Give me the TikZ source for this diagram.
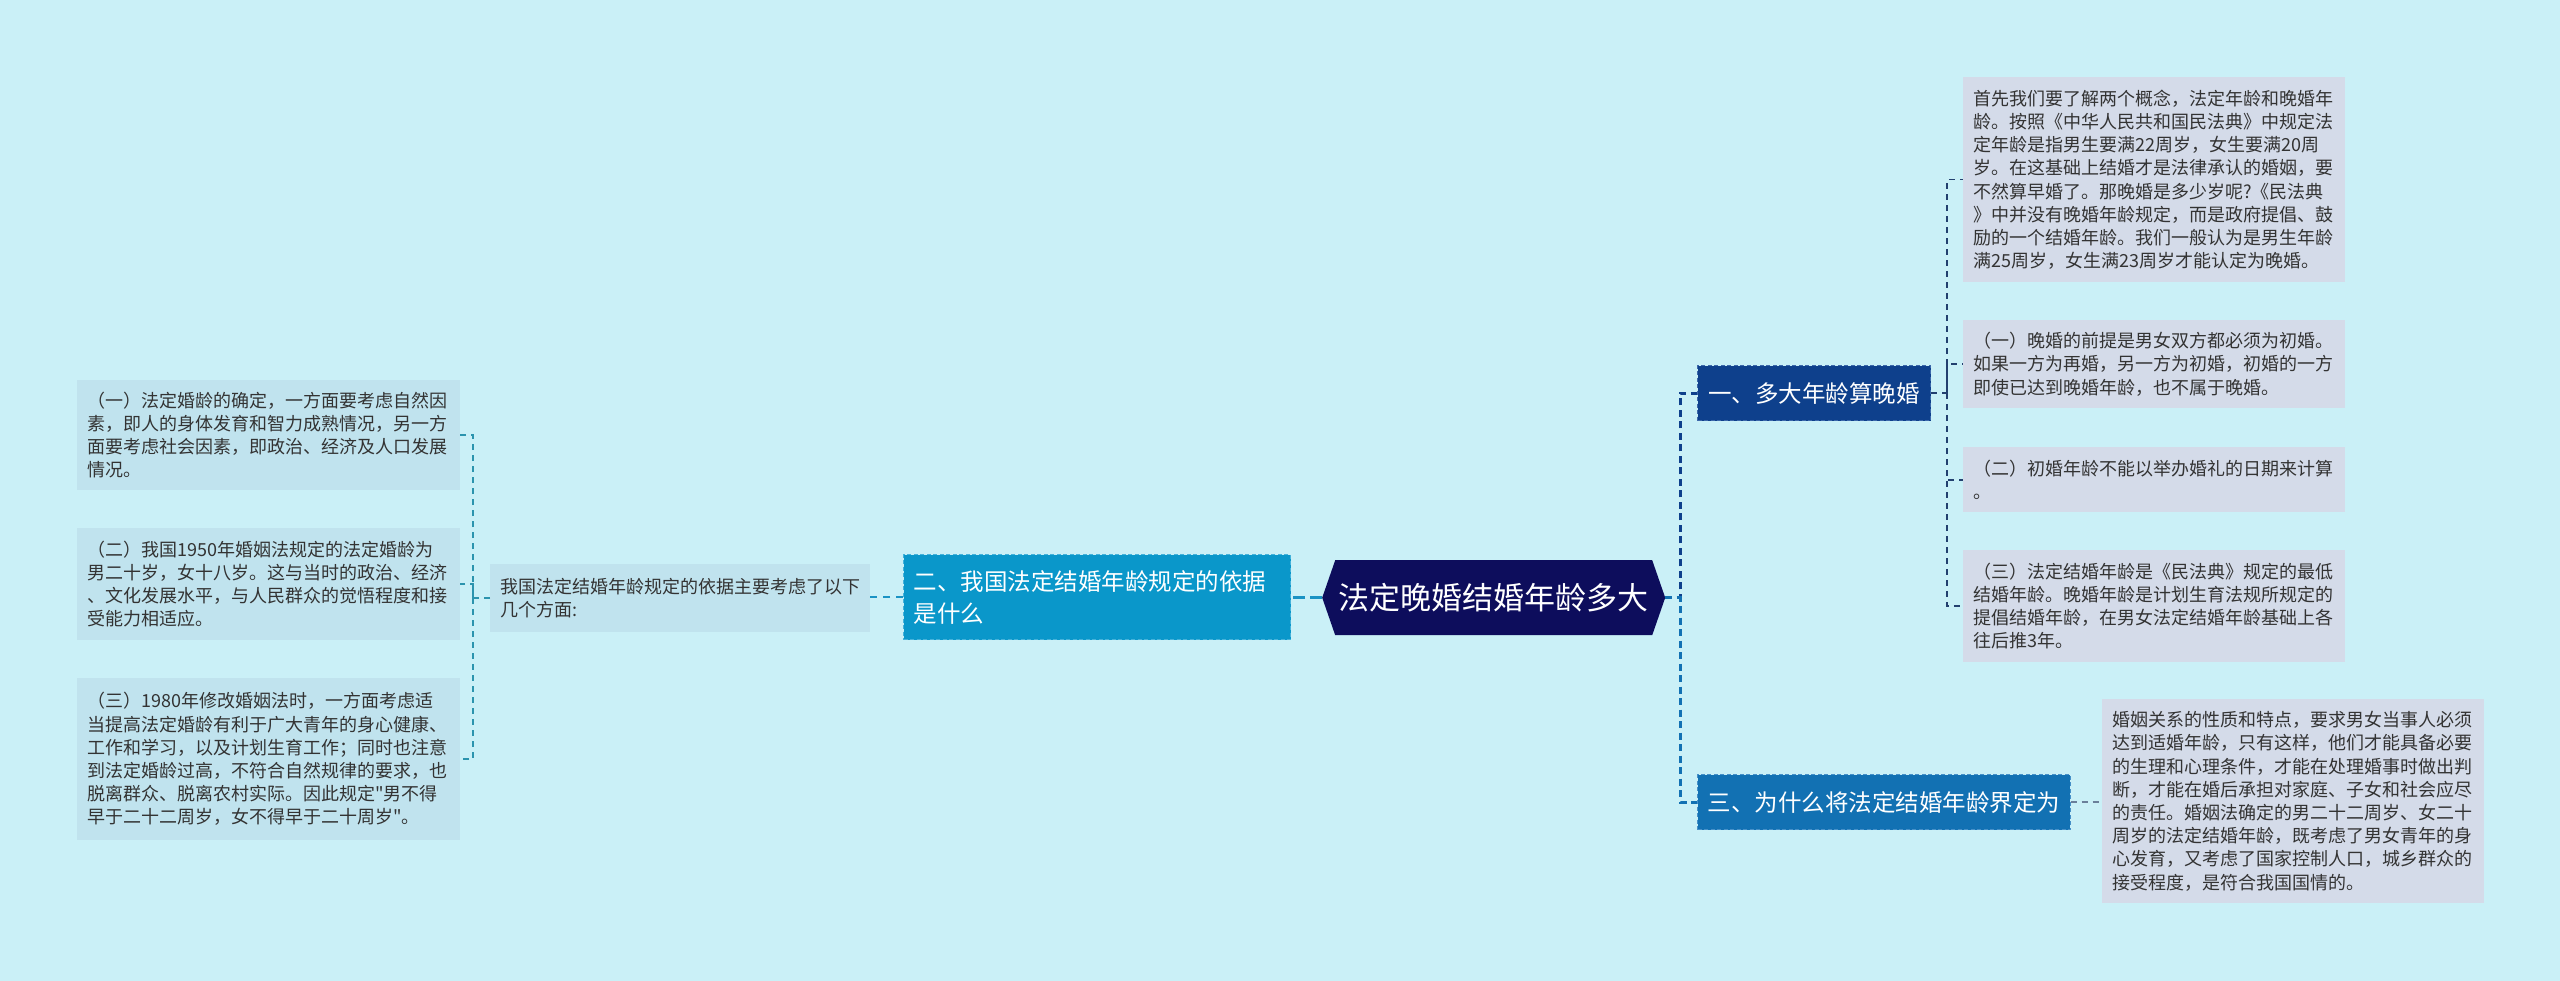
\documentclass[tikz,border=0pt]{standalone}
\usepackage{fontspec}
\newfontfamily\cjk{Noto Sans CJK SC}
\usetikzlibrary{calc}
\definecolor{bgc}{HTML}{CAF0F7}
\definecolor{leafR}{HTML}{D4DBE9}
\definecolor{leafL}{HTML}{C0E3EE}
\definecolor{rootc}{HTML}{0D0D5C}
\definecolor{cone}{HTML}{0E408C}
\definecolor{coneb}{HTML}{3C68AA}
\definecolor{ctwo}{HTML}{0A97CA}
\definecolor{ctwob}{HTML}{45B2DA}
\definecolor{cthree}{HTML}{1271B3}
\definecolor{cthreeb}{HTML}{4690C8}
\definecolor{lnktwo}{HTML}{1A93C4}
\definecolor{lnkL}{HTML}{2C94AE}
\definecolor{lnkR}{HTML}{23406F}
\definecolor{lnkthree}{HTML}{6A7F9A}
\definecolor{txt}{HTML}{333333}
\tikzset{
  leafbox/.style={anchor=north west, inner xsep=10pt, inner ysep=0pt, align=left,
    text=txt, font={\cjk\fontsize{18}{23.2}\selectfont}},
  rleaf/.style={leafbox, fill=leafR, text width=362pt},
  lleaf/.style={leafbox, fill=leafL, text width=363pt},
  mainbox/.style={anchor=north west, inner xsep=10pt, inner ysep=0pt, text=white,
    font={\cjk\fontsize{23.5}{32}\selectfont}, line width=1.2pt, dash pattern=on 4pt off 2.5pt},
  trunk/.style={line width=3pt, dash pattern=on 7pt off 4.5pt},
  thinlink/.style={line width=1.6pt, dash pattern=on 6pt off 5pt},
}
\begin{document}
\begin{tikzpicture}[x=1pt,y=-1pt]
\fill[bgc] (0,0) rectangle (2560,981);
\useasboundingbox (0,0) rectangle (2560,981);

% root
\node[anchor=north west, minimum width=343pt, minimum height=75pt, inner sep=0pt,
  text=white, font={\cjk\fontsize{31}{36}\selectfont},
  path picture={\fill[rootc]
    ([xshift=13pt]path picture bounding box.north west) --
    ([xshift=-13pt]path picture bounding box.north east) --
    (path picture bounding box.east) --
    ([xshift=-13pt]path picture bounding box.south east) --
    ([xshift=13pt]path picture bounding box.south west) --
    (path picture bounding box.west) -- cycle;}] (root) at (1322,560) {法定晚婚结婚年龄多大};

% main branches
\node[mainbox, fill=cone, draw=coneb, minimum width=233pt, minimum height=55pt] (b1) at (1697,365) {一、多大年龄算晚婚};
\node[mainbox, fill=cthree, draw=cthreeb, minimum width=372pt, minimum height=55pt] (b3) at (1697,774) {三、为什么将法定结婚年龄界定为};
\node[mainbox, fill=ctwo, draw=ctwob, text width=367pt, align=left, minimum height=85pt] (b2) at (903,554) {二、我国法定结婚年龄规定的依据\\是什么};

% right leaves
\node[rleaf, minimum height=205pt] (r0) at (1963,77) {首先我们要了解两个概念，法定年龄和晚婚年\\龄。按照《中华人民共和国民法典》中规定法\\定年龄是指男生要满22周岁，女生要满20周\\岁。在这基础上结婚才是法律承认的婚姻，要\\不然算早婚了。那晚婚是多少岁呢?《民法典\\》中并没有晚婚年龄规定，而是政府提倡、鼓\\励的一个结婚年龄。我们一般认为是男生年龄\\满25周岁，女生满23周岁才能认定为晚婚。};
\node[rleaf, minimum height=88pt] (r1) at (1963,320) {（一）晚婚的前提是男女双方都必须为初婚。\\如果一方为再婚，另一方为初婚，初婚的一方\\即使已达到晚婚年龄，也不属于晚婚。};
\node[rleaf, minimum height=65pt] (r2) at (1963,447) {（二）初婚年龄不能以举办婚礼的日期来计算\\。};
\node[rleaf, minimum height=112pt] (r3) at (1963,550) {（三）法定结婚年龄是《民法典》规定的最低\\结婚年龄。晚婚年龄是计划生育法规所规定的\\提倡结婚年龄，在男女法定结婚年龄基础上各\\往后推3年。};
\node[rleaf, minimum height=204pt] (c0) at (2102,699) {婚姻关系的性质和特点，要求男女当事人必须\\达到适婚年龄，只有这样，他们才能具备必要\\的生理和心理条件，才能在处理婚事时做出判\\断，才能在婚后承担对家庭、子女和社会应尽\\的责任。婚姻法确定的男二十二周岁、女二十\\周岁的法定结婚年龄，既考虑了男女青年的身\\心发育，又考虑了国家控制人口，城乡群众的\\接受程度，是符合我国国情的。};

% left side
\node[lleaf, text width=360pt, minimum height=68pt] (mid) at (490,564) {我国法定结婚年龄规定的依据主要考虑了以下\\几个方面:};
\node[lleaf, minimum height=110pt] (l1) at (77,380) {（一）法定婚龄的确定，一方面要考虑自然因\\素，即人的身体发育和智力成熟情况，另一方\\面要考虑社会因素，即政治、经济及人口发展\\情况。};
\node[lleaf, minimum height=112pt] (l2) at (77,528) {（二）我国1950年婚姻法规定的法定婚龄为\\男二十岁，女十八岁。这与当时的政治、经济\\、文化发展水平，与人民群众的觉悟程度和接\\受能力相适应。};
\node[lleaf, minimum height=162pt] (l3) at (77,678) {（三）1980年修改婚姻法时，一方面考虑适\\当提高法定婚龄有利于广大青年的身心健康、\\工作和学习，以及计划生育工作；同时也注意\\到法定婚龄过高，不符合自然规律的要求，也\\脱离群众、脱离农村实际。因此规定"男不得\\早于二十二周岁，女不得早于二十周岁"。};

% junction columns
\coordinate (tR) at (1680,0);
\coordinate (tA) at (1947,0);
\coordinate (tL) at (473,0);

% connectors
\draw[trunk, cone] (root.east) -- (root.east -| tR) |- (b1.west);
\draw[trunk, cthree] (root.east) -- (root.east -| tR) |- (b3.west);
\draw[lnktwo, line width=3pt, dash pattern=on 12pt off 5pt] (root.west) -- (root.west -| b2.east);
\draw[lnktwo, line width=2pt, dash pattern=on 7pt off 6pt] (b2.west) -- (b2.west -| mid.east);
\draw[thinlink, lnkL] (mid.west) -- (mid.west -| tL) |- (l1.east);
\draw[thinlink, lnkL] (mid.west -| tL) |- (l2.east);
\draw[thinlink, lnkL] (mid.west -| tL) |- (l3.east);
\draw[thinlink, lnkR] (b1.east) -- (b1.east -| tA) |- (r0.west);
\draw[thinlink, lnkR] (b1.east -| tA) |- (r1.west);
\draw[thinlink, lnkR] (b1.east -| tA) |- (r2.west);
\draw[thinlink, lnkR] (b1.east -| tA) |- (r3.west);
\draw[thinlink, lnkthree] (b3.east) -- (b3.east -| c0.west);
\end{tikzpicture}
\end{document}
